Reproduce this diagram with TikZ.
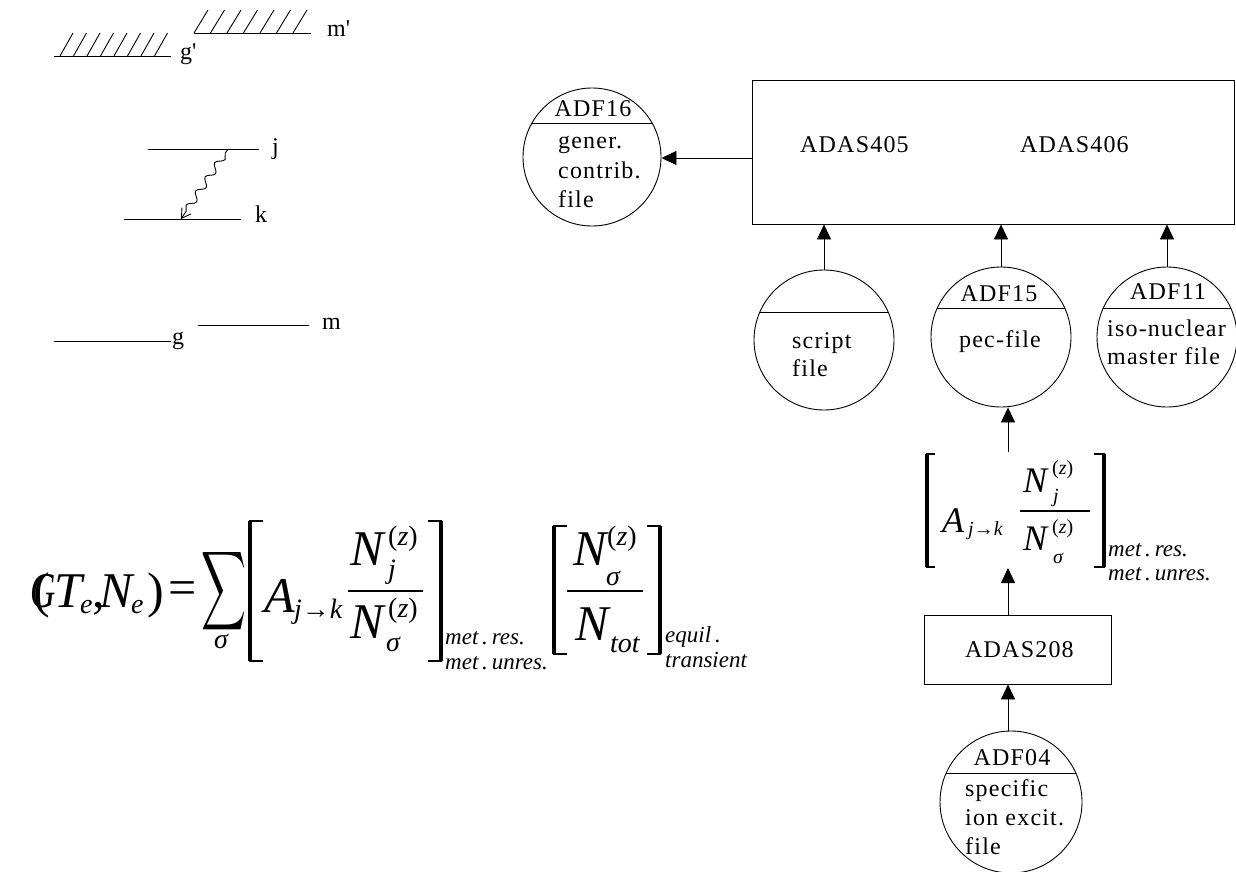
\documentclass[tikz,border=0pt]{standalone}
\usepackage{fontspec}
\usepackage{graphicx}
\setmainfont{Liberation Serif}
\newfontfamily\labfont[LetterSpace=5]{Liberation Serif}
\usetikzlibrary{arrows.meta,decorations.pathmorphing}
\begin{document}
\begin{tikzpicture}[x=1pt,y=-1pt,
  every node/.style={inner sep=0pt},
  lbl/.style={anchor=base west,font=\labfont\fontsize{24}{28}\selectfont},
  lblc/.style={anchor=base,font=\labfont\fontsize{24}{28}\selectfont},
  fc/.style={circle,draw,line width=0.9pt,minimum size=140pt},
  chord/.style={path picture={\draw[line width=0.9pt] ([yshift=#1]path picture bounding box.center) +(-90pt,0) -- +(90pt,0);}},
  arr/.style={line width=0.9pt,-{Triangle[length=15pt,width=14pt]}},
  lev/.style={line width=0.9pt},
  big/.style={anchor=base west,font=\fontsize{50}{50}\selectfont\itshape},
  bigu/.style={anchor=base west,font=\fontsize{50}{50}\selectfont},
  sub/.style={anchor=base west,font=\fontsize{28}{28}\selectfont\itshape},
  tag/.style={anchor=base west,font=\fontsize{23}{23}\selectfont\itshape},
  med/.style={anchor=base west,font=\fontsize{36}{36}\selectfont\itshape},
  msub/.style={anchor=base west,font=\fontsize{20}{20}\selectfont\itshape},
  brk/.style={line width=3.2pt},
  brkarm/.style={line width=1.8pt},
]
\useasboundingbox (0,0) rectangle (1236,872);

% ---------- level diagram ----------
\draw[lev] (54,56) -- (171,56);
\foreach \i in {0,...,7} \draw[lev] ({60+13.5*\i},56) -- ++(13,-23);
\node[lbl] (lgp) at (180,60) {g\textquotesingle};
\draw[lev] (194,33) -- (311,33);
\foreach \i in {0,...,6} \draw[lev] ({194+16.5*\i},33) -- ++(14,-23);
\node[lbl] (lmp) at (327,37) {m\textquotesingle};

\draw[lev] (148,149) -- (259,149);
\node[lbl] (lj) at (272,154) {j};
\draw[lev] (124,219) -- (241,219);
\node[lbl] (lk) at (255,222) {k};
\draw[lev,decorate,decoration={snake,amplitude=3.5pt,segment length=17pt,pre length=5pt,post length=9pt},
  -{Straight Barb[length=9pt,width=11pt]}] (228,149) -- (181,219);

\draw[lev] (54,341) -- (171,341);
\node[lbl] (lg) at (172,344) {g};
\draw[lev] (198,325) -- (309,325);
\node[lbl] (lm) at (322,329) {m};

% ---------- big formula ----------
\node[big] (fG) at (30,607) {\scalebox{0.7}[1]{G}};
\node[bigu] (fLp) at (33,607) {(};
\node[big] (fT) at (54,607) {T};
\node[sub] (fe1) at (80,613) {e};
\node[bigu] (fcom) at (92,607) {,};
\node[big] (fN) at (99,607) {N};
\node[sub] (fe2) at (131,613) {e};
\node[bigu] (fRp) at (147,607) {)};
\node[bigu] (feq) at (168,604) {=};
\node (fsum) at (224.5,591) {\resizebox{45pt}{58pt}{$\displaystyle\sum$}};
\node[sub,anchor=base] (fsig) at (221,648) {σ};

\draw[brkarm] (263,521) -- (250,521) -- (250,661) -- (263,661);
\draw[brk] (250,521) -- (250,661);
\node[big] (fA) at (264,612) {A};
\node[sub] (fjk) at (294,618) {j→k};
\node[big] (fNj) at (350,565) {N};
\node[sub] (fzj) at (388,545) {\upshape(\itshape z\upshape)};
\node[sub] (fj) at (388,578) {j};
\draw[line width=1.4pt] (348,591) -- (423,591);
\node[big] (fNs) at (350,638) {N};
\node[sub] (fzs) at (388,617) {\upshape(\itshape z\upshape)};
\node[sub] (fs) at (386,651) {σ};
\draw[brkarm] (428,521) -- (441,521) -- (441,661) -- (428,661);
\draw[brk] (441,521) -- (441,661);
\node[tag] (fmr) at (445,644) {met\,.\,res.};
\node[tag] (fmu) at (445,669) {met\,.\,unres.};

\draw[brkarm] (567,526) -- (554,526) -- (554,654) -- (567,654);
\draw[brk] (554,526) -- (554,654);
\node[big] (gNs) at (573,565) {N};
\node[sub] (gzs) at (607,545) {\upshape(\itshape z\upshape)};
\node[sub] (gs) at (606,585) {σ};
\draw[line width=1.4pt] (567,591) -- (643,591);
\node[big] (gNt) at (575,640) {N};
\node[sub] (gt) at (610,652) {tot};
\draw[brkarm] (647,526) -- (660,526) -- (660,654) -- (647,654);
\draw[brk] (660,526) -- (660,654);
\node[tag] (geq) at (665,642) {equil\,.};
\node[tag] (gtr) at (665,667) {transient};

% ---------- flow diagram ----------
\node[draw,line width=0.9pt,minimum width=482pt,minimum height=144pt] (box1) at (993,152) {};
\node[lbl] (t405) at (800,152) {ADAS405};
\node[lbl] (t406) at (1020,152) {ADAS406};

\node[fc,chord=34pt,minimum size=138pt] (a16) at (592,157) {};
\node[lblc] (t16) at (593,117) {ADF16};
\node[lbl] (t16a) at (558,149) {gener.};
\node[lbl] (t16b) at (558,178) {contrib.};
\node[lbl] (t16c) at (558,207) {file};
\draw[arr] ([yshift=-6pt]box1.west) -- ([yshift=-6pt]box1.west -| a16.east);

\node[fc,chord=28pt] (sc) at (824,340) {};
\node[lbl] (tsca) at (792,348) {script};
\node[lbl] (tscb) at (792,376) {file};

\node[fc,chord=29pt] (a15) at (1001,337) {};
\node[lblc] (t15) at (999,301) {ADF15};
\node[lblc] (t15a) at (1000,347) {pec-file};

\node[fc,chord=29pt] (a11) at (1167,337) {};
\node[lblc] (t11) at (1168,299) {ADF11};
\node[lbl] (t11a) at (1107,336) {iso-nuclear};
\node[lbl] (t11b) at (1107,364) {master file};

\draw[arr] (sc.north) -- (sc.north |- box1.south);
\draw[arr] (a15.north) -- (a15.north |- box1.south);
\draw[arr] (a11.north) -- (a11.north |- box1.south);

% small formula
\coordinate (sfN) at (1008,452);
\coordinate (sfS) at (1008,568);
\draw[brkarm] (935,454) -- (927,454) -- (927,567) -- (935,567);
\draw[brk] (927,454) -- (927,567);
\node[med] (hA) at (942,532) {A};
\node[msub] (hjk) at (968,535) {j→k};
\node[med] (hNj) at (1023,492) {N};
\node[msub] (hzj) at (1052,474) {\upshape(\itshape z\upshape)};
\node[msub] (hj) at (1053,502) {j};
\draw[line width=1.2pt] (1020,511) -- (1090,511);
\node[med] (hNs) at (1023,550) {N};
\node[msub] (hzs) at (1052,533) {\upshape(\itshape z\upshape)};
\node[msub] (hs) at (1053,563) {σ};
\draw[brkarm] (1094,454) -- (1104,454) -- (1104,567) -- (1094,567);
\draw[brk] (1104,454) -- (1104,567);
\node[tag] (hmr) at (1108,556) {met\,.\,res.};
\node[tag] (hmu) at (1108,580) {met\,.\,unres.};

\draw[arr] (sfN) -- (sfN |- a15.south);
\node[draw,line width=0.9pt,minimum width=187pt,minimum height=69pt] (b208) at (1017.5,649.5) {};
\node[lbl] (t208) at (965,657) {ADAS208};
\draw[arr] (sfS |- b208.north) -- (sfS);

\node[fc,chord=29pt,minimum size=142pt] (a04) at (1011,802) {};
\node[lblc] (t04) at (1012,765) {ADF04};
\node[lbl] (t04a) at (965,796) {specific};
\node[lbl] (t04b) at (965,825) {ion excit.};
\node[lbl] (t04c) at (965,854) {file};
\draw[arr] (sfS |- a04.north) -- (sfS |- b208.south);
\end{tikzpicture}
\end{document}
